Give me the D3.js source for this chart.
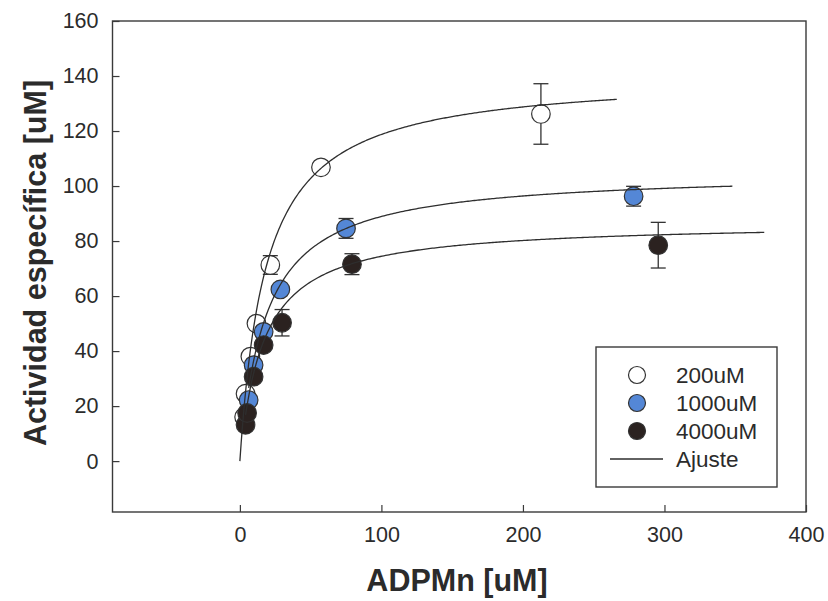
<!DOCTYPE html>
<html>
<head>
<meta charset="utf-8">
<script src="https://cdn.jsdelivr.net/npm/d3@7"></script>
<style>
  html, body { margin: 0; padding: 0; background: #fff; }
  svg { display: block; }
  text { font-family: "Liberation Sans", Arial, sans-serif; fill: #2b2b2b; }
</style>
</head>
<body>
<svg id="chart" width="828" height="601"></svg>
<script>
// ADPMn concentration [uM] and specific activity for each Mn-ATP level
const x200 = [3.0, 4.0, 7.4, 11.7, 21.5, 57.3, 212.7];
const y200 = [16.0, 24.5, 38.0, 50.0, 71.3, 106.8, 126.2];
const e200 = [1.0, 1.5, 1.5, 1.5, 3.4, 1.5, 11.0];

const x1000 = [6.2, 9.7, 16.8, 28.6, 75.0, 278.2];
const y1000 = [22.2, 34.9, 47.0, 62.4, 84.6, 96.3];
const e1000 = [1.5, 1.5, 1.5, 1.5, 3.6, 3.6];

const x4000 = [4.0, 5.1, 9.7, 16.8, 29.8, 79.2, 295.6];
const y4000 = [13.2, 17.5, 30.7, 42.2, 50.3, 71.6, 78.5];
const e4000 = [1.0, 1.0, 1.5, 1.5, 4.8, 3.8, 8.3];

// Michaelis-Menten fit parameters (Vmax, Km) and plotted x range of each fit
const fitVmax = [140.6, 105.2, 86.9];
const fitKm = [18.4, 18.3, 16.7];
const fitFrom = [0, 6.2, 4.0];
const fitTo = [266.3, 348, 370.5];

const seriesNames = ["200uM", "1000uM", "4000uM"];
const fitName = "Ajuste";
const xTicks = [0, 100, 200, 300, 400];
const yTicks = [0, 20, 40, 60, 80, 100, 120, 140, 160];
const xTitle = "ADPMn [uM]";
const yTitle = "Actividad específica [uM]";

const fills = ["#ffffff", "#5487d6", "#2b2220"];
const ink = "#333";

const svg = d3.select("#chart");
const plotL = 112.5, plotR = 806, plotT = 21, plotB = 512;

const x = d3.scaleLinear().domain([-90, 400]).range([plotL, plotR]);
const y = d3.scaleLinear().domain([-18.5, 160]).range([plotB, plotT]);

// Frame
svg.append("rect")
  .attr("x", plotL).attr("y", plotT)
  .attr("width", plotR - plotL).attr("height", plotB - plotT)
  .attr("fill", "none").attr("stroke", "#3a3a3a").attr("stroke-width", 1.4);

// Axes with inward ticks
const gx = svg.append("g").attr("transform", `translate(0,${plotB})`)
  .call(d3.axisBottom(x).tickValues(xTicks).tickSize(-7).tickSizeOuter(0).tickPadding(15));
const gy = svg.append("g").attr("transform", `translate(${plotL},0)`)
  .call(d3.axisLeft(y).tickValues(yTicks).tickSize(-7).tickSizeOuter(0).tickPadding(14));
[gx, gy].forEach(g => {
  g.select(".domain").remove();
  g.selectAll(".tick line").attr("stroke", "#3a3a3a").attr("stroke-width", 1.2);
  g.selectAll(".tick text").attr("font-size", 21.5).attr("fill", "#2e2e2e")
    .style("font-family", "'Liberation Sans', Arial, sans-serif");
});

// Axis titles
svg.append("text")
  .attr("x", 457).attr("y", 591)
  .attr("text-anchor", "middle")
  .attr("font-size", 30.5).attr("font-weight", "bold")
  .text(xTitle);
svg.append("text")
  .attr("transform", "translate(46,263) rotate(-90)")
  .attr("text-anchor", "middle")
  .attr("font-size", 30.5).attr("font-weight", "bold")
  .text(yTitle);

// Points with error bars
const series = [
  { xs: x200, ys: y200, es: e200 },
  { xs: x1000, ys: y1000, es: e1000 },
  { xs: x4000, ys: y4000, es: e4000 }
];
const capHalf = 7.5, r = 9.3;

series.forEach((s, i) => {
  const pts = s.xs.map((xv, j) => ({ x: xv, y: s.ys[j], e: s.es[j] }));
  const g = svg.append("g");
  const eb = g.selectAll("g.eb").data(pts).join("g").attr("class", "eb")
    .attr("stroke", ink).attr("stroke-width", 1.3);
  eb.append("line")
    .attr("x1", d => x(d.x)).attr("x2", d => x(d.x))
    .attr("y1", d => y(d.y + d.e)).attr("y2", d => y(d.y - d.e));
  eb.append("line")
    .attr("x1", d => x(d.x) - capHalf).attr("x2", d => x(d.x) + capHalf)
    .attr("y1", d => y(d.y + d.e)).attr("y2", d => y(d.y + d.e));
  eb.append("line")
    .attr("x1", d => x(d.x) - capHalf).attr("x2", d => x(d.x) + capHalf)
    .attr("y1", d => y(d.y - d.e)).attr("y2", d => y(d.y - d.e));
  g.selectAll("circle").data(pts).join("circle")
    .attr("cx", d => x(d.x)).attr("cy", d => y(d.y)).attr("r", r)
    .attr("fill", fills[i]).attr("stroke", ink).attr("stroke-width", 1.2);
});

// Fitted curves
const line = d3.line().x(d => x(d[0])).y(d => y(d[1])).curve(d3.curveLinear);
fitVmax.forEach((vmax, i) => {
  const km = fitKm[i];
  const n = 300;
  const pts = d3.range(n + 1).map(k => {
    const xv = fitFrom[i] + (fitTo[i] - fitFrom[i]) * k / n;
    return [xv, vmax * xv / (km + xv)];
  });
  svg.append("path").datum(pts).attr("d", line)
    .attr("fill", "none").attr("stroke", "#2e2e2e").attr("stroke-width", 1.3);
});

// Legend
const lg = svg.append("g");
lg.append("rect").attr("x", 596).attr("y", 347).attr("width", 181).attr("height", 140)
  .attr("fill", "#fff").attr("stroke", "#3a3a3a").attr("stroke-width", 1.4);
const rowY = [375, 403, 431, 459];
seriesNames.forEach((name, i) => {
  lg.append("circle").attr("cx", 637).attr("cy", rowY[i]).attr("r", 8.5)
    .attr("fill", fills[i]).attr("stroke", ink).attr("stroke-width", 1.2);
  lg.append("text").attr("x", 676).attr("y", rowY[i]).attr("dy", "0.36em")
    .attr("font-size", 22.5).text(name);
});
lg.append("line").attr("x1", 610).attr("x2", 663).attr("y1", rowY[3]).attr("y2", rowY[3])
  .attr("stroke", "#2e2e2e").attr("stroke-width", 1.3);
lg.append("text").attr("x", 676).attr("y", rowY[3]).attr("dy", "0.36em")
  .attr("font-size", 22.5).text(fitName);
</script>
</body>
</html>
